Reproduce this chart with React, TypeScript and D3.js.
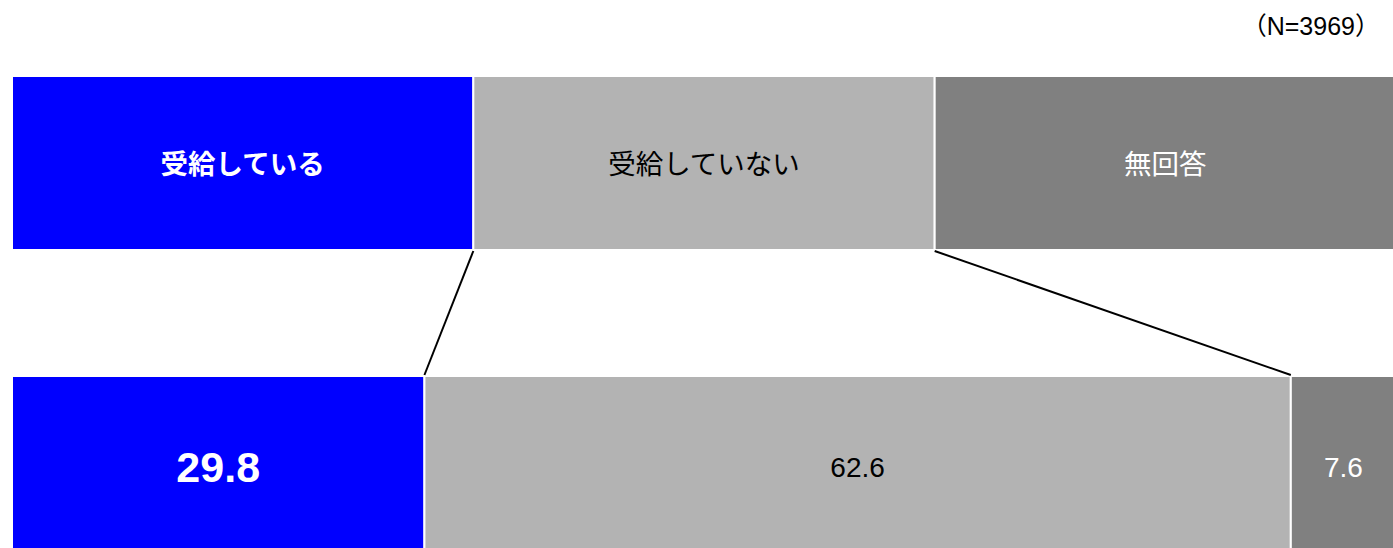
import React from "react";
import * as d3 from "d3";

const categories = ["受給している", "受給していない", "無回答"];
const values = [29.8, 62.6, 7.6];
const colors = ["#0000ff", "#b3b3b3", "#808080"];
const textColors = ["#ffffff", "#000000", "#ffffff"];
const nLabel = "（N=3969）";

const W = 1393;
const H = 548;

export default function App() {
  const x0 = 12;
  const x1 = 1396;
  const band = d3.scaleBand<string>().domain(categories).range([x0, x1]).padding(0);
  const total = d3.sum(values);
  const xs = d3.scaleLinear().domain([0, total]).range([x0, x1]);
  const cum: number[] = [];
  let acc = 0;
  values.forEach((v) => { cum.push(acc); acc += v; });

  const topY = 76, topH = 174;
  const botY = 376, botH = 180;
  const font = "'Liberation Sans', Arial, 'Noto Sans CJK JP', sans-serif";
  const jfont = "'Noto Sans CJK JP', sans-serif";

  return (
    <svg width={W} height={H} style={{ position: "absolute", left: 0, top: 0 }}>
      <rect width={W} height={H} fill="#fff" />
      <text x={1380} y={28} textAnchor="end" dominantBaseline="middle" fontFamily={font} fontSize={25} fill="#000">
        {nLabel}
      </text>
      {categories.map((c, i) => (
        <g key={c}>
          <rect x={band(c)!} y={topY} width={band.bandwidth()} height={topH} fill={colors[i]} stroke="#fff" strokeWidth={2} />
          <text
            x={band(c)! + band.bandwidth() / 2}
            y={topY + topH / 2 - 1}
            textAnchor="middle"
            dominantBaseline="central"
            fontFamily={jfont}
            fontSize={27.5}
            fontWeight={i === 0 ? "bold" : "normal"}
            fill={textColors[i]}
          >
            {c}
          </text>
        </g>
      ))}
      {values.map((v, i) => (
        <g key={i}>
          <rect x={xs(cum[i])} y={botY} width={xs(cum[i] + v) - xs(cum[i])} height={botH} fill={colors[i]} stroke="#fff" strokeWidth={2} />
          <text
            x={(xs(cum[i]) + xs(cum[i] + v)) / 2}
            y={botY + 91}
            textAnchor="middle"
            dominantBaseline="central"
            fontFamily={font}
            fontSize={i === 0 ? 43 : 28}
            fontWeight={i === 0 ? "bold" : "normal"}
            fill={textColors[i]}
          >
            {v.toFixed(1)}
          </text>
        </g>
      ))}
      <line x1={band(categories[1])!} y1={topY + topH + 1} x2={xs(cum[1])} y2={botY - 1} stroke="#000" strokeWidth={2} />
      <line x1={band(categories[2])!} y1={topY + topH + 1} x2={xs(cum[2])} y2={botY - 1} stroke="#000" strokeWidth={2} />
    </svg>
  );
}
